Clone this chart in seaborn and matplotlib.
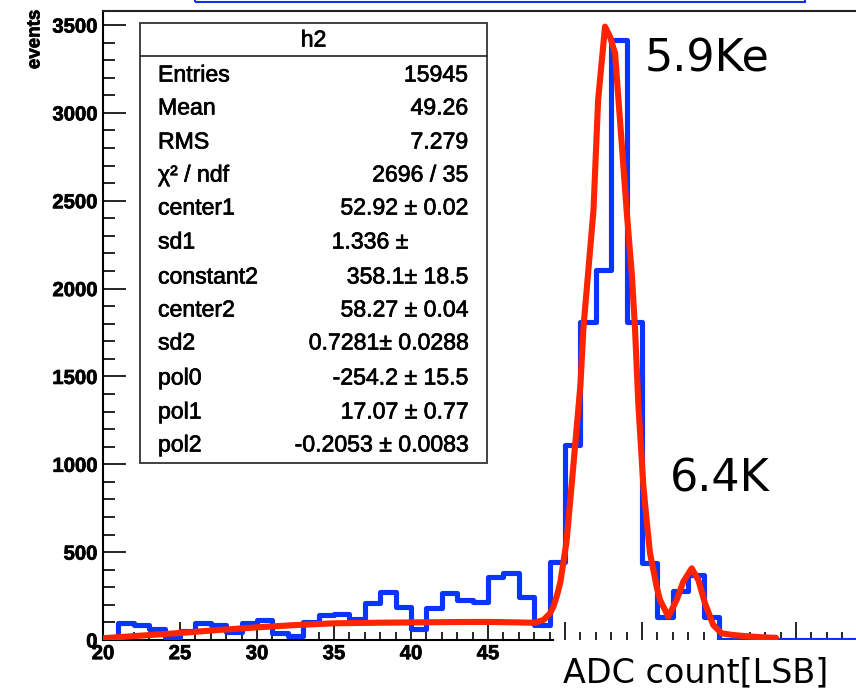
import matplotlib
matplotlib.use("Agg")
import matplotlib.pyplot as plt
import matplotlib.patheffects as pe
import seaborn as sns
import numpy as np
import pandas as pd
from matplotlib.patches import Rectangle
from matplotlib.ticker import MultipleLocator, FuncFormatter

# ---------------- data ----------------
bin_lo = 20
bin_hi = 70
counts = [3, 99, 85, 63, 15, 50, 99, 85, 45, 95,
          112, 40, 25, 100, 145, 150, 120, 209, 271, 186,
          61, 180, 269, 228, 214, 357, 383, 243, 85, 443,
          1110, 1810, 2106, 3415, 1810, 438, 131, 281, 370, 131,
          0, 0, 0, 0, 0, 0, 0, 0, 0, 0]

fit_x = [20.0, 22.5, 25.0, 27.5, 30.0, 32.5, 35.0, 37.5, 40.0, 42.5, 45.0, 47.0, 48.0,
         48.6, 49.03, 49.25, 49.5, 49.7, 50.1, 50.5, 51.0, 51.2, 51.85, 52.15, 52.6,
         52.92, 53.25, 53.57, 54.0, 54.35, 54.55, 54.76, 55.09, 55.3, 55.52, 55.74,
         55.95, 56.17, 56.71, 57.25, 57.68, 58.23, 58.66, 59.09, 59.63, 60.17, 60.93,
         62.0, 62.88, 63.7]
fit_y = [10, 25, 40, 57, 72, 85, 95, 98, 100, 102, 103, 100, 98,
         114, 152, 190, 260, 330, 560, 950, 1450, 1780, 2447, 3073, 3491,
         3434, 3339, 2960, 2447, 2068, 1764, 1347, 874, 683, 493, 398,
         303, 228, 133, 228, 332, 408, 341, 209, 85, 38, 28,
         20, 15, 12]

stat_labels = ["Entries", "Mean", "RMS", "χ² / ndf", "center1", "sd1", "constant2",
               "center2", "sd2", "pol0", "pol1", "pol2"]
stat_values = ["15945", "49.26", "7.279", "2696 / 35", "52.92 ± 0.02", "1.336 ±",
               "358.1± 18.5", "58.27 ± 0.04", "0.7281± 0.0288", "-254.2 ± 15.5",
               "17.07 ± 0.77", "-0.2053 ± 0.0083"]
stat_title = "h2"
x_ticks_major = 5
y_ticks_major = 500
x_label_max = 45   # tick labels beyond this are hidden under the axis-title box

# ---------------- style ----------------
W, H = 856, 688
sns.set_theme(style="ticks")
plt.rcParams["font.family"] = ["Liberation Sans", "DejaVu Sans"]

BLUE = "#0a34ff"
RED = "#ff2400"
thick = [pe.withStroke(linewidth=0.5, foreground="black")]
thick2 = [pe.withStroke(linewidth=0.7, foreground="black")]

def fx(px):
    return px / W

def fy(py):
    return 1 - py / H

fig = plt.figure(figsize=(W / 100, H / 100), dpi=100)
fig.patch.set_facecolor("white")
left_px, top_px, bottom_px = 103, 11, 640
px_per_unit = 15.4
ax = fig.add_axes([fx(left_px), fy(bottom_px), (bin_hi - bin_lo) * px_per_unit / W,
                   (bottom_px - top_px) / H])
ax.set_facecolor("white")

centers = [bin_lo + i + 0.5 for i in range(len(counts))]
df = pd.DataFrame({"adc": centers, "n": counts})
sns.histplot(data=df, x="adc", weights="n", binwidth=1, binrange=(bin_lo, bin_hi),
             element="step", fill=False, color=BLUE, linewidth=3.7, ax=ax, zorder=3)

fit_df = pd.DataFrame({"x": fit_x, "y": fit_y})
sns.lineplot(data=fit_df, x="x", y="y", sort=False, color=RED, linewidth=4.4, ax=ax,
             zorder=4, estimator=None)

ax.set_xlim(bin_lo, bin_hi)
ax.set_ylim(0, 3580)
ax.set_xlabel("")
ax.set_ylabel("")

ax.xaxis.set_major_locator(MultipleLocator(x_ticks_major))
ax.xaxis.set_minor_locator(MultipleLocator(1))
ax.xaxis.set_major_formatter(FuncFormatter(lambda v, p: f"{v:.0f}" if v <= x_label_max + 0.1 else ""))
ax.yaxis.set_major_locator(MultipleLocator(y_ticks_major))
ax.yaxis.set_minor_locator(MultipleLocator(100))
ax.tick_params(axis="x", which="major", direction="in", length=13, width=1.2, color="black",
               labelsize=14.6, pad=3, labelcolor="black")
ax.tick_params(axis="x", which="minor", direction="in", length=5.8, width=1.2, color="black")
ax.tick_params(axis="y", which="major", direction="in", length=16.5, width=1.2, color="black",
               labelsize=14.6, pad=4, labelcolor="black")
ax.tick_params(axis="y", which="minor", direction="in", length=8.6, width=1.2, color="black")

for s in ["left", "bottom", "top"]:
    ax.spines[s].set_visible(True)
    ax.spines[s].set_color("black")
    ax.spines[s].set_linewidth(1.5)
ax.spines["top"].set_color("#222222")
ax.spines["right"].set_visible(False)
ax.spines["bottom"].set_bounds(bin_lo, 49.2)

# y title
fig.text(fx(35), fy(10), "events", rotation=90, ha="center", va="top",
         fontsize=13.5, fontweight="bold", color="black", path_effects=thick)

# stats box
bx0, by0, bx1, by1, hline = 140, 23, 487, 463, 56
fig.add_artist(Rectangle((fx(bx0), fy(by1)), (bx1 - bx0) / W, (by1 - by0) / H,
                         transform=fig.transFigure, facecolor="white", edgecolor="#333333",
                         linewidth=1.3, zorder=6))
fig.add_artist(plt.Line2D([fx(bx0), fx(bx1)], [fy(hline), fy(hline)], transform=fig.transFigure,
                          color="#333333", linewidth=1.3, zorder=7))
fig.text(fx((bx0 + bx1) / 2), fy(40), stat_title, ha="center", va="center",
         fontsize=16.6, color="black", zorder=8, path_effects=thick)
row_y = [75, 108, 142, 175, 208, 242, 277, 310, 343, 378, 412, 445]
for lab, val, yy in zip(stat_labels, stat_values, row_y):
    fig.text(fx(158), fy(yy), lab, ha="left", va="center", fontsize=16.6,
             color="black", zorder=8, path_effects=thick)
    xr = 408 if lab == "sd1" else 468
    fig.text(fx(xr), fy(yy), val, ha="right", va="center", fontsize=16.6,
             color="black", zorder=8, path_effects=thick)

# blue title box cut off at top
fig.add_artist(Rectangle((fx(195), fy(2)), (805 - 195) / W, 0.05, transform=fig.transFigure,
                         facecolor="none", edgecolor="#1030ee", linewidth=1.5, zorder=6))

# annotations
fig.text(fx(645), fy(71), "5.9Ke", ha="left", va="baseline", fontsize=32,
         family="DejaVu Sans", color="black", zorder=8)
fig.text(fx(670), fy(492), "6.4K", ha="left", va="baseline", fontsize=32,
         family="DejaVu Sans", color="black", zorder=8)

# white label box covering the right part of the x axis
fig.add_artist(Rectangle((fx(553), 0), (W - 553) / W, (H - 641) / H, transform=fig.transFigure,
                         facecolor="white", edgecolor="none", zorder=6))
fig.text(fx(563), fy(682), "ADC count[LSB]", ha="left", va="baseline", fontsize=24,
         family="DejaVu Sans", color="black", zorder=8)

# bold tick labels (set after the ticks exist)
fig.canvas.draw()
for t in ax.xaxis.get_major_ticks() + ax.yaxis.get_major_ticks():
    t.label1.set_fontweight("bold")
    t.label1.set_path_effects(thick)

fig.savefig("out.png", dpi=100, facecolor="white")
